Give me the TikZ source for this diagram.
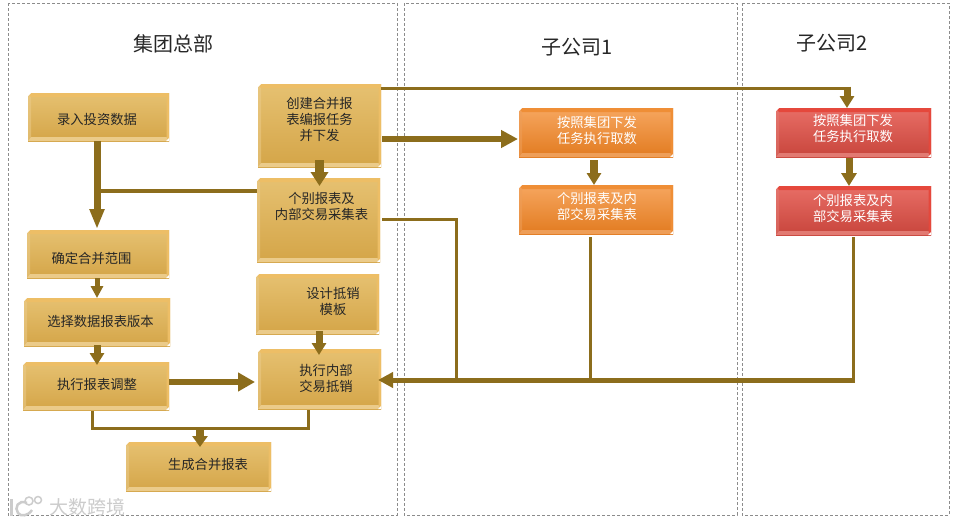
\documentclass[tikz,border=0pt]{standalone}
\usepackage{fontspec}
\setmainfont{Noto Sans CJK SC}
\usetikzlibrary{arrows.meta,calc}
\definecolor{brn}{HTML}{8C6D1C}
\definecolor{gt}{HTML}{E6C171}\definecolor{gb}{HTML}{D4A548}
\definecolor{gs}{HTML}{EBCB8A}\definecolor{gd}{HTML}{EDBE66}
\definecolor{ot}{HTML}{F6A65F}\definecolor{ob}{HTML}{E27B20}
\definecolor{os}{HTML}{EE9E58}\definecolor{od}{HTML}{EF8E36}
\definecolor{rt}{HTML}{E86E66}\definecolor{rb}{HTML}{C8453C}
\definecolor{rs}{HTML}{E27A72}\definecolor{rd}{HTML}{E5483C}
\tikzset{
  panel/.style={draw=black!45,densely dashed,line width=.5pt},
  bevel/.style n args={4}{draw=none,top color=#1,bottom color=#2,
    path picture={
      \coordinate (pnw) at (path picture bounding box.north west);
      \coordinate (pne) at (path picture bounding box.north east);
      \coordinate (psw) at (path picture bounding box.south west);
      \coordinate (pse) at (path picture bounding box.south east);
      \fill[#3] (psw) -- (pse) -- ([xshift=-2.5pt,yshift=4pt]pse) -- ([xshift=3pt,yshift=4pt]psw) -- cycle;
      \fill[#3,opacity=.55] (psw) -- (pnw) -- ([xshift=3pt,yshift=-4pt]pnw) -- ([xshift=3pt,yshift=4pt]psw) -- cycle;
      \fill[#4] (pse) -- (pne) -- ([xshift=-2.5pt,yshift=-4pt]pne) -- ([xshift=-2.5pt,yshift=4pt]pse) -- cycle;
      \fill[#4] (pnw) -- (pne) -- ([xshift=-2.5pt,yshift=-4pt]pne) -- ([xshift=3pt,yshift=-4pt]pnw) -- cycle;
      \fill[white] (pnw) -- ([xshift=3pt]pnw) -- ([yshift=-3pt]pnw) -- cycle;
      \fill[white] (pse) -- ([xshift=-3pt]pse) -- ([yshift=3pt]pse) -- cycle;
    }},
  gold/.style={bevel={gt}{gb}{gs}{gd}},
  orange/.style={bevel={ot}{ob}{os}{od}},
  redbox/.style={bevel={rt}{rb}{rs}{rd}},
  lbl/.style={align=center,font=\fontsize{13.3}{16}\selectfont,text=black!85,inner sep=0pt},
  wlbl/.style={lbl,text=white},
  ttl/.style={font=\fontsize{20}{24}\selectfont,text=black!85,inner sep=0pt},
  conn/.style={draw=brn,line width=#1},
  arr/.style n args={3}{draw=brn,line width=#1,-{Triangle[width=#2,length=#3,fill=brn]}},
}
\newcommand{\bbox}[6]{%
  \node[#1,minimum width={(#5-#3)*1pt},minimum height={(#6-#4)*1pt},inner sep=0pt,outer sep=0pt] (#2) at ({(#3+#5)/2},{(#4+#6)/2}) {};}
\begin{document}
\begin{tikzpicture}[x=1pt,y=-1pt]
\useasboundingbox (0,0) rectangle (959,525);
\fill[white] (0,0) rectangle (959,525);
% panels
\draw[panel] (8,3) rectangle (397,515);
\draw[panel] (404,3) rectangle (737,515);
\draw[panel] (742,3) rectangle (949,515);
\node[ttl] (t1) at (173,44) {集团总部};
\node[ttl] (t2) at (577,47) {子公司1};
\node[ttl] (t3) at (832,43) {子公司2};
% boxes
\bbox{gold}{a}{28}{93}{169}{141}
\bbox{gold}{b}{27}{230}{169}{278}
\bbox{gold}{c}{24}{298}{170}{346}
\bbox{gold}{d}{23}{362}{169}{410}
\bbox{gold}{e}{126}{442}{271}{491}
\bbox{gold}{f}{258}{84}{381}{167}
\bbox{gold}{g}{257}{178}{380}{262}
\bbox{gold}{h}{256}{274}{379}{334}
\bbox{gold}{i}{258}{349}{381}{409}
\bbox{orange}{j}{519}{108}{673}{157}
\bbox{orange}{k}{519}{185}{673}{234}
\bbox{redbox}{l}{776}{108}{931}{157}
\bbox{redbox}{m}{776}{186}{931}{235}
% labels
\node[lbl] (la) at (97,119) {录入投资数据};
\node[lbl] (lb) at (91.5,258) {确定合并范围};
\node[lbl] (lc) at (100.5,321) {选择数据报表版本};
\node[lbl] (ld) at (97,384) {执行报表调整};
\node[lbl] (le) at (208,464) {生成合并报表};
\node[lbl] (lf) at (319.5,119) {创建合并报\\表编报任务\\并下发};
\node[lbl] (lg) at (321.5,206) {个别报表及\\内部交易采集表};
\node[lbl] (lh) at (333,301) {设计抵销\\模板};
\node[lbl] (li) at (326,378) {执行内部\\交易抵销};
\node[wlbl] (lj) at (597,130) {按照集团下发\\任务执行取数};
\node[wlbl] (lk) at (597,206) {个别报表及内\\部交易采集表};
\node[wlbl] (ll) at (853,128) {按照集团下发\\任务执行取数};
\node[wlbl] (lm) at (853,208) {个别报表及内\\部交易采集表};
% junction coordinates
\coordinate (trunk) at (97,191);
\coordinate (mergeL) at (92,428);
\coordinate (mergeR) at (308,428);
\coordinate (mergeC) at (200,428);
\coordinate (busG) at (456,380);
\coordinate (busK) at (590,380);
\coordinate (busM) at (853.5,380);
\coordinate (cornerL) at (847,88);
\coordinate (cornerG) at (456,219.5);
% connectors
\draw[arr={7pt}{14pt}{20pt}] (a.south -| trunk) -- ([yshift=1pt]b.north -| trunk);
\draw[conn=3.5pt] (g.west |- trunk) -- (trunk);
\draw[arr={9pt}{17pt}{14pt}] ([yshift=7pt]f.south -| 319.5,0) -- ([yshift=-8pt]g.north -| 319.5,0);
\draw[arr={5pt}{12pt}{12pt}] (b.south -| 97,0) -- (c.north -| 97,0);
\draw[arr={7pt}{14pt}{12pt}] ([yshift=1pt]c.south -| 97,0) -- ([yshift=-3pt]d.north -| 97,0);
\draw[arr={6pt}{18pt}{17pt}] (d.east |- 0,382) -- ([xshift=-3pt]i.west |- 0,382);
\draw[arr={7pt}{14pt}{12pt}] ([yshift=3pt]h.south -| 319,0) -- ([yshift=-6pt]i.north -| 319,0);
\draw[conn=3pt,line cap=rect] ([yshift=-2pt]d.south -| mergeL) -- (mergeL) -- (mergeR) -- ([yshift=-2pt]i.south -| mergeR);
\draw[arr={8pt}{15pt}{11pt}] (mergeC) -- ([yshift=-5pt]e.north -| mergeC);
\draw[conn=3pt] (f.east |- cornerL) -- (cornerL);
\draw[arr={7pt}{14pt}{12pt}] ([yshift=1.5pt]cornerL) -- (l.north -| cornerL);
\draw[arr={6pt}{17pt}{17pt}] ([xshift=1pt]f.east |- 0,139) -- ([xshift=-1pt]j.west |- 0,139);
\draw[arr={8pt}{14pt}{12pt}] ([yshift=-3pt]j.south -| 594,0) -- (k.north -| 594,0);
\draw[arr={7pt}{15pt}{13pt}] ([yshift=-1pt]l.south -| 849,0) -- (m.north -| 849,0);
\draw[conn=3pt,line join=miter] ([xshift=2pt]g.east |- cornerG) -- (cornerG) -- (busG);
\draw[conn=3pt] ([yshift=-3pt]k.south -| busK) -- (busK);
\draw[conn=3pt] ([yshift=-2pt]m.south -| busM) -- (busM);
\draw[arr={5pt}{15pt}{15pt}] ([xshift=1.5pt]busM) -- ([xshift=-3pt]i.east |- busM);
% watermark
\node[text=black!20,font=\fontsize{19}{22}\selectfont,inner sep=0pt] (wm) at (87,507) {大数跨境};
\draw[line width=3pt,draw=black!20] (11,499) -- (11,516);
\draw[line width=2.5pt,draw=black!20] (27,503) .. controls (18,499) and (14,508) .. (18,513) .. controls (21,517) and (28,516) .. (32,510);
\draw[line width=1.5pt,draw=black!20] (29,501) circle (4);
\draw[line width=1.5pt,draw=black!20] (38,500) circle (3.5);
\end{tikzpicture}
\end{document}
